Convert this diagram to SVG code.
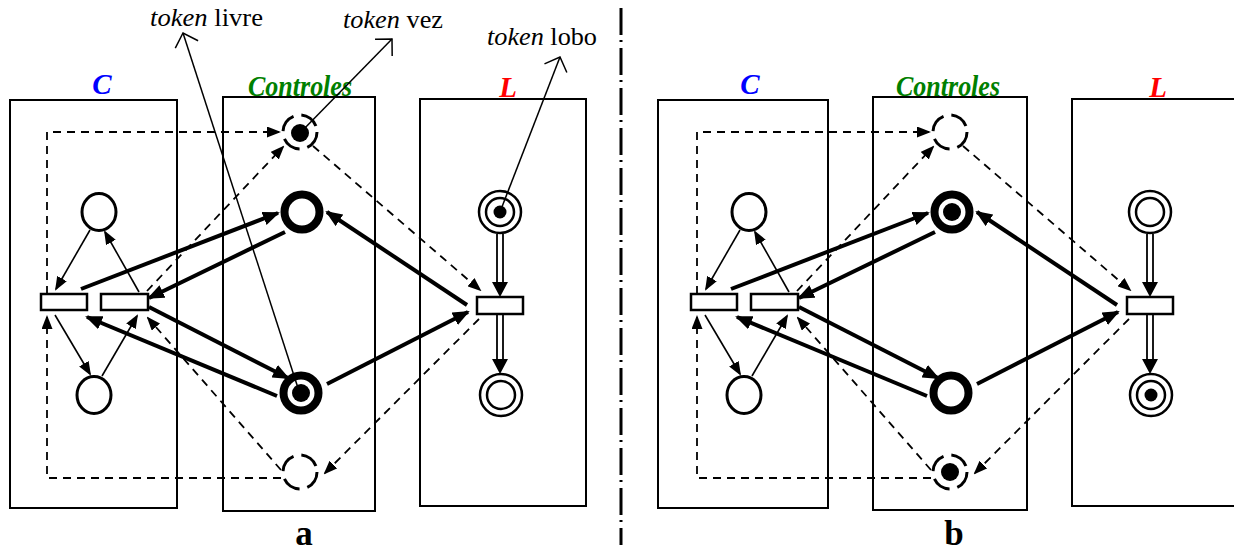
<svg xmlns="http://www.w3.org/2000/svg" width="1234" height="553" viewBox="0 0 1234 553">
<style>
.box{fill:none;stroke:#000;stroke-width:2}
.thin{fill:none;stroke:#000;stroke-width:1.6;marker-end:url(#ah)}
.thick{fill:none;stroke:#000;stroke-width:4;marker-end:url(#ahT)}
.dash{fill:none;stroke:#000;stroke-width:1.8;stroke-dasharray:8 6;marker-end:url(#ah)}
.dbl{fill:none;stroke:#000;stroke-width:1.8}
.pl{fill:#fff;stroke:#000;stroke-width:3}
.dpl{fill:none;stroke:#000;stroke-width:3;stroke-dasharray:19 8}
.tpl{fill:#fff;stroke:#000;stroke-width:8}
.tr{fill:#fff;stroke:#000;stroke-width:2.5}
.lp{fill:#fff;stroke:#000;stroke-width:2.5}
.ann{font-family:"Liberation Serif",serif;font-size:25px;fill:#000}
.ptr{fill:none;stroke:#000;stroke-width:1.5;marker-end:url(#open)}
.lab{font-family:"Liberation Serif",serif;font-size:29px;font-weight:bold;font-style:italic;text-anchor:middle}
.ttl{font-family:"Liberation Serif",serif;font-size:35px;font-weight:bold;text-anchor:middle;fill:#000}
</style>
<defs>
<marker id="ah" markerUnits="userSpaceOnUse" markerWidth="14" markerHeight="11" viewBox="0 0 14 11" refX="12" refY="5.5" orient="auto"><path d="M0,0 L14,5.5 L0,11 z" fill="#000"/></marker>
<marker id="ahT" markerUnits="userSpaceOnUse" markerWidth="17" markerHeight="14" viewBox="0 0 17 14" refX="15" refY="7" orient="auto"><path d="M0,0 L17,7 L0,14 z" fill="#000"/></marker>
<marker id="open" markerUnits="userSpaceOnUse" markerWidth="18" markerHeight="26" viewBox="0 0 18 26" refX="16" refY="13" orient="auto"><path d="M4,1 L16,13 L4,25" fill="none" stroke="#000" stroke-width="1.5"/></marker>
</defs>
<rect width="1234" height="553" fill="#fff"/>

<!-- separator -->
<line x1="621" y1="8" x2="621" y2="545" stroke="#000" stroke-width="3" stroke-dasharray="27 5 2 6"/>

<!-- ===== Panel a ===== -->
<g id="panel-a">
  <g id="a-boxes">
    <g id="a-box-C"><rect class="box" x="10" y="100" width="167" height="408"/><text class="lab" x="102" y="94" fill="#0000ff">C</text></g>
    <g id="a-box-Controles"><rect class="box" x="223" y="97" width="152" height="414"/><text class="lab" x="300" y="96" fill="#008000" textLength="104" lengthAdjust="spacingAndGlyphs">Controles</text></g>
    <g id="a-box-L"><rect class="box" x="420" y="99" width="166" height="407"/><text class="lab" x="508" y="97" fill="#ff0000">L</text></g>
  </g>
  <g id="a-connectors">
    <line class="thin" x1="90" y1="230" x2="56" y2="289"/>
    <line class="thin" x1="139" y1="292" x2="105" y2="232"/>
    <line class="thin" x1="55" y1="315" x2="90" y2="374"/>
    <line class="thin" x1="102" y1="376" x2="137" y2="316"/>
    <polyline class="dash" points="47,294 47,132 279,132"/>
    <polyline class="dash" points="281,478 47,478 47,317"/>
    <line class="dash" x1="147" y1="291" x2="283" y2="147"/>
    <line class="dash" x1="313" y1="146" x2="480" y2="290"/>
    <line class="dash" x1="479" y1="319" x2="325" y2="473"/>
    <line class="dash" x1="281" y1="470" x2="148" y2="318"/>
    <line class="thick" x1="81" y1="289" x2="278" y2="213"/>
    <line class="thick" x1="285" y1="232" x2="149" y2="298"/>
    <line class="thick" x1="149" y1="307" x2="288" y2="378"/>
    <line class="thick" x1="277" y1="396" x2="87" y2="317"/>
    <line class="thick" x1="467" y1="305" x2="327" y2="212"/>
    <line class="thick" x1="327" y1="384" x2="468" y2="312"/>
    <g id="a-dbl1"><line class="dbl" x1="497" y1="234" x2="497" y2="285"/><line class="dbl" x1="503" y1="234" x2="503" y2="285"/><path d="M492,282 L508,282 L500,297 z"/></g>
    <g id="a-dbl2"><line class="dbl" x1="497" y1="314" x2="497" y2="362"/><line class="dbl" x1="503" y1="314" x2="503" y2="362"/><path d="M492,359 L508,359 L500,374 z"/></g>
  </g>
  <g id="a-nodes">
    <g id="a-pC1"><ellipse class="pl" cx="99" cy="212" rx="17" ry="18.5"/></g>
    <g id="a-pC2"><ellipse class="pl" cx="94" cy="395" rx="17" ry="18.5"/></g>
    <g id="a-t1"><rect class="tr" x="41" y="294" width="46" height="16"/></g>
    <g id="a-t2"><rect class="tr" x="101" y="294" width="47" height="16"/></g>
    <g id="a-dv1"><circle class="dpl" cx="300" cy="132" r="17"/><circle cx="300" cy="133" r="9"/></g>
    <g id="a-ctrl1"><circle class="tpl" cx="302" cy="212" r="17.5"/></g>
    <g id="a-ctrl2"><circle class="tpl" cx="301" cy="393" r="17.5"/><circle cx="301" cy="393" r="9"/></g>
    <g id="a-dv2"><circle class="dpl" cx="300" cy="472" r="17"/></g>
    <g id="a-L1"><circle class="lp" cx="500" cy="212" r="21"/><circle class="lp" cx="500" cy="212" r="14"/><circle cx="500" cy="212" r="6.5"/></g>
    <g id="a-tL"><rect class="tr" x="477" y="297" width="46" height="17"/></g>
    <g id="a-L2"><circle class="lp" cx="501" cy="395" r="21"/><circle class="lp" cx="501" cy="395" r="14"/></g>
  </g>
  <g id="a-annotations">
    <line class="ptr" x1="298" y1="388" x2="183" y2="33"/>
    <line class="ptr" x1="300" y1="133" x2="392" y2="39"/>
    <line class="ptr" x1="500" y1="212" x2="560" y2="57"/>
    <text class="ann" x="150" y="26" textLength="113" lengthAdjust="spacingAndGlyphs"><tspan font-style="italic">token</tspan> livre</text>
    <text class="ann" x="343" y="28" textLength="100" lengthAdjust="spacingAndGlyphs"><tspan font-style="italic">token</tspan> vez</text>
    <text class="ann" x="487" y="45" textLength="110" lengthAdjust="spacingAndGlyphs"><tspan font-style="italic">token</tspan> lobo</text>
  </g>
  <text class="ttl" x="304" y="545">a</text>
</g>

<!-- ===== Panel b ===== -->
<g id="panel-b" transform="translate(650,0)">
  <g id="b-boxes">
    <g id="b-box-C"><rect class="box" x="8" y="100" width="170" height="408"/><text class="lab" x="100" y="94" fill="#0000ff">C</text></g>
    <g id="b-box-Controles"><rect class="box" x="223" y="97" width="154" height="413"/><text class="lab" x="298" y="96" fill="#008000" textLength="104" lengthAdjust="spacingAndGlyphs">Controles</text></g>
    <g id="b-box-L"><rect class="box" x="422" y="99" width="166" height="407"/><text class="lab" x="508" y="97" fill="#ff0000">L</text></g>
  </g>
  <g id="b-connectors">
    <line class="thin" x1="90" y1="230" x2="56" y2="289"/>
    <line class="thin" x1="139" y1="292" x2="105" y2="232"/>
    <line class="thin" x1="55" y1="315" x2="90" y2="374"/>
    <line class="thin" x1="102" y1="376" x2="137" y2="316"/>
    <polyline class="dash" points="47,294 47,132 279,132"/>
    <polyline class="dash" points="281,478 47,478 47,317"/>
    <line class="dash" x1="147" y1="291" x2="283" y2="147"/>
    <line class="dash" x1="313" y1="146" x2="480" y2="290"/>
    <line class="dash" x1="479" y1="319" x2="325" y2="473"/>
    <line class="dash" x1="281" y1="470" x2="148" y2="318"/>
    <line class="thick" x1="81" y1="289" x2="278" y2="213"/>
    <line class="thick" x1="285" y1="232" x2="149" y2="298"/>
    <line class="thick" x1="149" y1="307" x2="288" y2="378"/>
    <line class="thick" x1="277" y1="396" x2="87" y2="317"/>
    <line class="thick" x1="467" y1="305" x2="327" y2="212"/>
    <line class="thick" x1="327" y1="384" x2="468" y2="312"/>
    <g id="b-dbl1"><line class="dbl" x1="497" y1="234" x2="497" y2="285"/><line class="dbl" x1="503" y1="234" x2="503" y2="285"/><path d="M492,282 L508,282 L500,297 z"/></g>
    <g id="b-dbl2"><line class="dbl" x1="497" y1="314" x2="497" y2="362"/><line class="dbl" x1="503" y1="314" x2="503" y2="362"/><path d="M492,359 L508,359 L500,374 z"/></g>
  </g>
  <g id="b-nodes">
    <g id="b-pC1"><ellipse class="pl" cx="99" cy="212" rx="17" ry="18.5"/></g>
    <g id="b-pC2"><ellipse class="pl" cx="94" cy="395" rx="17" ry="18.5"/></g>
    <g id="b-t1"><rect class="tr" x="41" y="294" width="46" height="16"/></g>
    <g id="b-t2"><rect class="tr" x="101" y="294" width="47" height="16"/></g>
    <g id="b-dv1"><circle class="dpl" cx="300" cy="132" r="17"/></g>
    <g id="b-ctrl1"><circle class="tpl" cx="302" cy="212" r="17.5"/><circle cx="302" cy="212" r="9"/></g>
    <g id="b-ctrl2"><circle class="tpl" cx="301" cy="393" r="17.5"/></g>
    <g id="b-dv2"><circle class="dpl" cx="300" cy="472" r="17"/><circle cx="300" cy="472" r="9"/></g>
    <g id="b-L1"><circle class="lp" cx="500" cy="212" r="21"/><circle class="lp" cx="500" cy="212" r="14"/></g>
    <g id="b-tL"><rect class="tr" x="477" y="297" width="46" height="17"/></g>
    <g id="b-L2"><circle class="lp" cx="501" cy="395" r="21"/><circle class="lp" cx="501" cy="395" r="14"/><circle cx="501" cy="395" r="6.5"/></g>
  </g>
  <text class="ttl" x="304" y="545">b</text>
</g>
</svg>
